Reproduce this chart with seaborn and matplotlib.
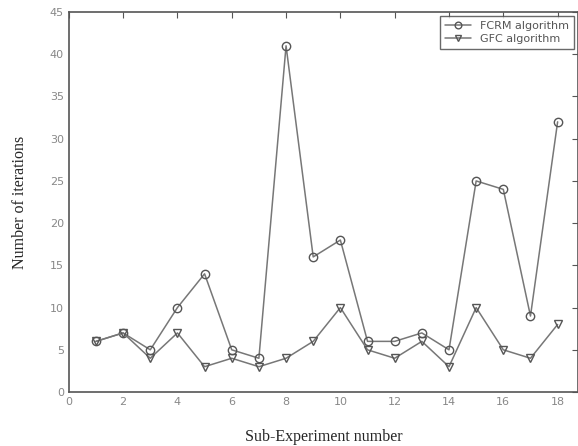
import numpy as np
import pandas as pd
import matplotlib
matplotlib.use("Agg")
import matplotlib.pyplot as plt
import seaborn as sns

# iterations per sub-experiment
experiments = list(range(1, 19))
fcrm_iters = [6, 7, 5, 10, 14, 5, 4, 41, 16, 18, 6, 6, 7, 5, 25, 24, 9, 32]
gfc_iters = [6, 7, 4, 7, 3, 4, 3, 4, 6, 10, 5, 4, 6, 3, 10, 5, 4, 8]
series_names = ["FCRM algorithm", "GFC algorithm"]

df = pd.DataFrame({
    "exp": experiments * 2,
    "iters": fcrm_iters + gfc_iters,
    "algo": [series_names[0]] * 18 + [series_names[1]] * 18,
})

sns.set_style("white")

fig = plt.figure(figsize=(5.78, 4.46), dpi=100)
ax = fig.add_axes([0.119, 0.121, 0.881, 0.852])

sns.lineplot(
    data=df, x="exp", y="iters", hue="algo", style="algo",
    markers={series_names[0]: "o", series_names[1]: "v"},
    dashes=False,
    palette={series_names[0]: "#777777", series_names[1]: "#777777"},
    markerfacecolor="none", markeredgecolor="#555555",
    markersize=6, markeredgewidth=1.0, linewidth=1.1,
    ax=ax,
)

ax.set_xlim(0, 18.75)
ax.set_ylim(0, 45)
ax.set_xticks(range(0, 19, 2))
ax.set_yticks(range(0, 46, 5))
ax.tick_params(direction="in", length=4, top=True, right=True,
               labelsize=8, labelcolor="#888888", color="#555555")
for s in ax.spines.values():
    s.set_color("#555555")
    s.set_linewidth(1.2)

ax.set_xlabel("Sub-Experiment number", family="Liberation Serif", fontsize=11.5, labelpad=16)
ax.set_ylabel("Number of iterations", family="Liberation Serif", fontsize=11.5, labelpad=16)

leg = ax.legend(loc="upper right", fontsize=8, frameon=True, fancybox=False,
                edgecolor="#444444", borderaxespad=0.4, handlelength=2.4,
                markerscale=0.8, labelspacing=0.3, borderpad=0.4)
leg.get_frame().set_linewidth(1.0)
for t in leg.get_texts():
    t.set_color("#555555")

fig.savefig("out.png", dpi=100)
